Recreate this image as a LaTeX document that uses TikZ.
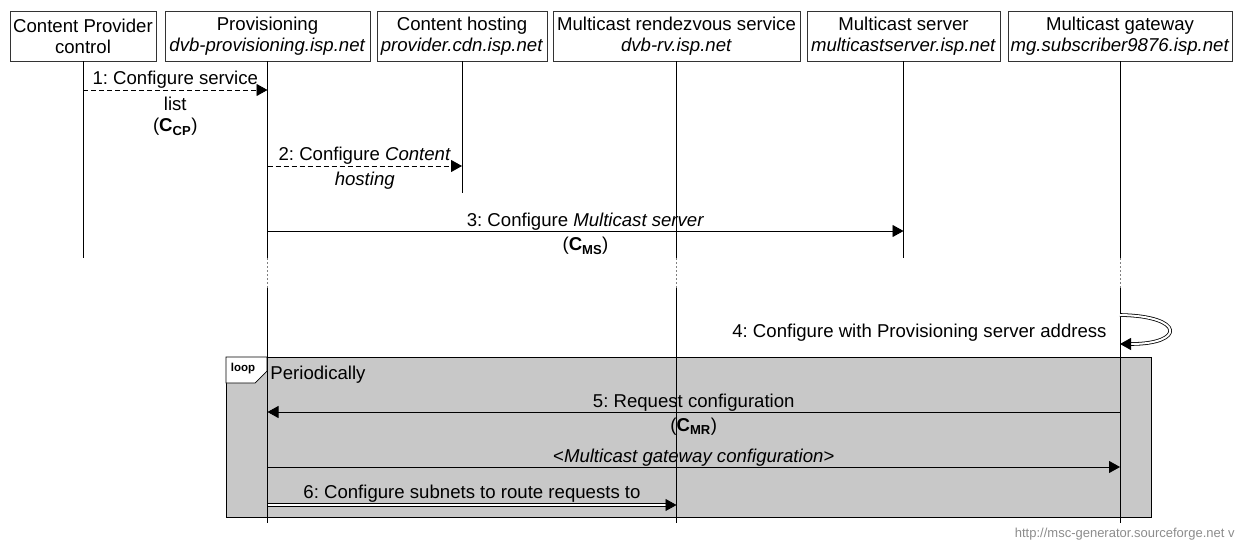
\documentclass[tikz,border=0pt]{standalone}
\usepackage{fontspec}
\setmainfont{Liberation Sans}
\usepackage{tikz}
\usetikzlibrary{arrows.meta,positioning}
\definecolor{loopgray}{RGB}{200,200,200}
\frenchspacing
\tikzset{
	entity/.style={draw=black!80,fill=white,align=center,inner sep=0pt,minimum height=50pt,font=\fontsize{18.6}{21}\selectfont},
	lbl/.style={font=\fontsize{18.6}{21}\selectfont,inner sep=0pt,align=center},
	msg/.style={-{Triangle[length=11pt,width=12pt]}},
	dbl/.style={double,double distance=2pt,line width=0.8pt,-{Triangle[length=11pt,width=12pt]}},
	dsh/.style={dash pattern=on 5pt off 3pt}
}

\begin{document}
\begin{tikzpicture}[x=1pt,y=-1pt,line width=0.9pt]
	\useasboundingbox (0,0) rectangle (1236,540);
	% entities
	\node[entity,minimum width=146pt] (cp) at (83,36) {Content Provider\\control};
	\node[entity,minimum width=205pt] (prov) at (267.5,36) {Provisioning\\\textit{dvb-provisioning.isp.net}};
	\node[entity,minimum width=170pt] (host) at (462,36) {Content hosting\\\textit{provider.cdn.isp.net}};
	\node[entity,minimum width=247pt] (rv) at (676.5,36) {Multicast rendezvous service\\\textit{dvb-rv.isp.net}};
	\node[entity,minimum width=193pt] (ms) at (903.5,36) {Multicast server\\\textit{multicastserver.isp.net}};
	\node[entity,minimum width=224pt] (mg) at (1120,36) {Multicast gateway\\\textit{mg.subscriber9876.isp.net}};
	
	% loop box
	\draw[fill=loopgray] (226,357) rectangle (1151,517);
	\draw[fill=white,line width=0.7pt] (226,357) -- (267,357) -- (267,371) -- (255,383) -- (226,383) -- cycle;
	\node[font=\bfseries\fontsize{11.5}{13}\selectfont,inner sep=0pt] (looptag) at (243,369) {loop};
	\node[lbl,anchor=base west] (period) at (270,379) {Periodically};
	
	% lifelines
	\foreach \e/\len in {cp/258,host/193,ms/258}
	\draw (\e.south) -- (\e.south |- 0,\len);
	\foreach \e in {prov,rv,mg} {
		\draw (\e.south) -- (\e.south |- 0,258);
		\draw[black!50,dash pattern=on 2pt off 2pt] (\e.south |- 0,258) -- (\e.south |- 0,288);
		\draw (\e.south |- 0,288) -- (\e.south |- 0,523);
	}
	
	% messages
	\draw[msg,dsh] (cp |- 0,90) -- (prov |- 0,90)
		node[midway,lbl,anchor=base,yshift=5pt] {1: Configure service}
		node[midway,lbl,anchor=north,yshift=-7pt] {list\\(\textbf{C\textsubscript{CP}})};
	\draw[msg,dsh] (prov |- 0,166) -- (host |- 0,166)
		node[midway,lbl,anchor=base,yshift=5pt] {2: Configure \textit{Content}}
		node[midway,lbl,anchor=north,yshift=-6pt] {\textit{hosting}};
	\draw[msg] (prov |- 0,231) -- (ms |- 0,231)
		node[midway,lbl,anchor=base,yshift=5pt] {3: Configure \textit{Multicast server}}
		node[midway,lbl,anchor=north,yshift=-6pt] {(\textbf{C\textsubscript{MS}})};
	\draw[dbl] (mg |- 0,315) .. controls (1185,316) and (1185,344) .. (mg |- 0,344);
	\node[lbl,anchor=base east,xshift=-13pt] (lbl4) at (mg |- 0,337) {4: Configure with Provisioning server address};
	\draw[msg] (mg |- 0,412) -- (prov |- 0,412)
		node[midway,lbl,anchor=base,yshift=5pt] {5: Request configuration}
		node[midway,lbl,anchor=north,yshift=-6pt] {(\textbf{C\textsubscript{MR}})};
	\draw[msg] (prov |- 0,467) -- (mg |- 0,467)
		node[midway,lbl,anchor=base,yshift=5pt] {<\textit{Multicast gateway configuration}>};
	\draw[dbl] (prov |- 0,505) -- (rv |- 0,505)
		node[midway,lbl,anchor=base,yshift=7pt] {6: Configure subnets to route requests to};
	
	\node[anchor=base east,inner sep=0pt,text=black!45,font=\fontsize{13}{15}\selectfont] (url) at (1235,537) {http://msc-generator.sourceforge.net v};
\end{tikzpicture}
\end{document}
